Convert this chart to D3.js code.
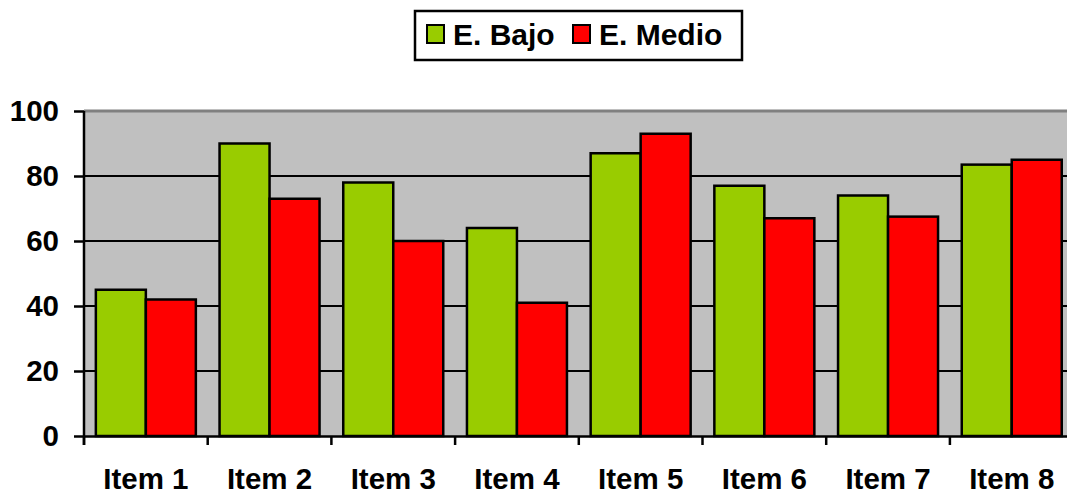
<!DOCTYPE html>
<html>
<head>
<meta charset="utf-8">
<script src="https://cdn.jsdelivr.net/npm/d3@7"></script>
<style>
  body { margin: 0; background: #fff; overflow: hidden; }
  text { font-family: "Liberation Sans", Arial, sans-serif; font-weight: bold; fill: #000; }
</style>
</head>
<body>
<div class="chart"></div>
<script>
// data
var items = ["Item 1", "Item 2", "Item 3", "Item 4", "Item 5", "Item 6", "Item 7", "Item 8"];
var series = ["E. Bajo", "E. Medio"];
var bajo = [45, 90, 78, 64, 87, 77, 74, 83.5];
var medio = [42, 73, 60, 41, 93, 67, 67.5, 85];
var yTicks = [0, 20, 40, 60, 80, 100];
var colors = ["#99CC00", "#FF0000"];

var width = 1067, height = 494;
var plot = { left: 84, top: 111, bottom: 436, right: 84 + 8 * 123.7 };
var fontSize = "29.5px";

var svg = d3.select(".chart")
    .append("svg")
    .attr("width", width)
    .attr("height", height);

var x0 = d3.scaleBand()
    .domain(items)
    .range([plot.left, plot.right])
    .padding(0);

var x1 = d3.scaleBand()
    .domain(series)
    .range([0, x0.bandwidth()])
    .paddingInner(0)
    .paddingOuter(0.237);

var y = d3.scaleLinear()
    .domain([0, 100])
    .range([plot.bottom, plot.top]);

// plot background
svg.append("rect")
    .attr("x", plot.left)
    .attr("y", plot.top)
    .attr("width", plot.right - plot.left)
    .attr("height", plot.bottom - plot.top)
    .style("fill", "#C0C0C0");

svg.append("line")
    .attr("x1", plot.left).attr("x2", plot.right)
    .attr("y1", plot.top).attr("y2", plot.top)
    .style("stroke", "#808080")
    .style("stroke-width", 3);

// gridlines
svg.append("g").selectAll("line")
    .data(yTicks.filter(function (d) { return d > 0 && d < 100; }))
    .enter()
    .append("line")
    .attr("x1", plot.left).attr("x2", plot.right)
    .attr("y1", function (d) { return y(d); })
    .attr("y2", function (d) { return y(d); })
    .style("stroke", "#000")
    .style("stroke-width", 2);

// bars
var rows = items.map(function (it, i) { return { item: it, values: [bajo[i], medio[i]] }; });

var groups = svg.append("g").selectAll("g")
    .data(rows)
    .enter()
    .append("g")
    .attr("transform", function (d) { return "translate(" + x0(d.item) + ",0)"; });

groups.selectAll("rect")
    .data(function (d) { return d.values.map(function (v, k) { return { s: series[k], v: v, k: k }; }); })
    .enter()
    .append("rect")
    .attr("x", function (d) { return x1(d.s); })
    .attr("y", function (d) { return y(d.v); })
    .attr("width", x1.bandwidth())
    .attr("height", function (d) { return plot.bottom - y(d.v); })
    .style("fill", function (d) { return colors[d.k]; })
    .style("stroke", "#000")
    .style("stroke-width", 2.5);

// y axis
var yAxis = d3.axisLeft(y)
    .tickValues(yTicks)
    .tickSize(10)
    .tickPadding(15)
    .tickSizeOuter(0);

var gy = svg.append("g")
    .attr("transform", "translate(" + plot.left + ",0)")
    .call(yAxis);
gy.select(".domain").attr("d", "M0," + plot.top + "V" + (plot.bottom + 9))
    .style("stroke", "#000").style("stroke-width", 2.5);
gy.selectAll(".tick line").style("stroke", "#000").style("stroke-width", 2.5);
gy.selectAll(".tick text")
    .style("font-size", fontSize)
    .style("font-family", "'Liberation Sans', Arial, sans-serif")
    .style("font-weight", "bold");

// x axis: labels centred, ticks on category boundaries
var xAxis = d3.axisBottom(x0)
    .tickSize(0)
    .tickPadding(32)
    .tickSizeOuter(0);

var gx = svg.append("g")
    .attr("transform", "translate(0," + plot.bottom + ")")
    .call(xAxis);
gx.select(".domain").style("stroke", "#000").style("stroke-width", 2.5);
gx.selectAll(".tick text")
    .style("font-size", fontSize)
    .style("font-family", "'Liberation Sans', Arial, sans-serif")
    .style("font-weight", "bold");

gx.selectAll(".bound")
    .data(items.concat(["end"]))
    .enter()
    .append("line")
    .attr("class", "bound")
    .attr("x1", function (d, i) { return plot.left + i * x0.step(); })
    .attr("x2", function (d, i) { return plot.left + i * x0.step(); })
    .attr("y1", 0)
    .attr("y2", 9)
    .style("stroke", "#000")
    .style("stroke-width", 2.5);

// legend
var legend = svg.append("g");
legend.append("rect")
    .attr("x", 415).attr("y", 11)
    .attr("width", 327).attr("height", 49)
    .style("fill", "#fff")
    .style("stroke", "#000")
    .style("stroke-width", 2.5);

var legX = [427, 573];
series.forEach(function (s, k) {
    legend.append("rect")
        .attr("x", legX[k]).attr("y", 25)
        .attr("width", 17).attr("height", 18)
        .style("fill", colors[k])
        .style("stroke", "#000")
        .style("stroke-width", 2);
    legend.append("text")
        .attr("x", legX[k] + 26)
        .attr("y", 45)
        .style("font-size", "30px")
        .text(s);
});
</script>
</body>
</html>
